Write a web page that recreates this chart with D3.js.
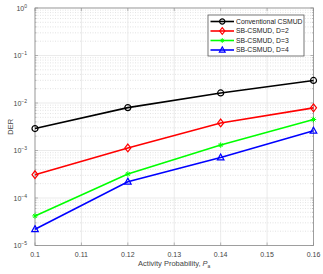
<!DOCTYPE html>
<html>
<head>
<meta charset="utf-8">
<script src="https://cdn.jsdelivr.net/npm/d3@7"></script>
<style>
  html, body { margin: 0; padding: 0; background: #fff; overflow: hidden; }
  svg { display: block; }
  svg text { font-family: "Liberation Sans", Arial, sans-serif; }
</style>
</head>
<body>
<div id="chart"></div>
<script>
const xValues = [0.1, 0.12, 0.14, 0.16];
const conventional = [2.9e-3, 8.0e-3, 1.63e-2, 2.98e-2];
const sbD2 = [3.1e-4, 1.13e-3, 3.8e-3, 7.9e-3];
const sbD3 = [4.2e-5, 3.2e-4, 1.3e-3, 4.5e-3];
const sbD4 = [2.2e-5, 2.2e-4, 7.1e-4, 2.6e-3];
const xTicks = [0.1, 0.11, 0.12, 0.13, 0.14, 0.15, 0.16];
const yExponents = [-5, -4, -3, -2, -1, 0];

const series = [
    { name: "Conventional CSMUD", values: conventional, color: "#000000", marker: "circle" },
    { name: "SB-CSMUD, D=2", values: sbD2, color: "#ff0000", marker: "diamond" },
    { name: "SB-CSMUD, D=3", values: sbD3, color: "#00ff00", marker: "star" },
    { name: "SB-CSMUD, D=4", values: sbD4, color: "#0000ff", marker: "triangle" }
];

const width = 323, height = 274;
const margin = { top: 8, right: 9.5, bottom: 28.5, left: 35 };
const innerWidth = width - margin.left - margin.right;
const innerHeight = height - margin.top - margin.bottom;

const svg = d3.select("#chart").append("svg")
    .attr("width", width)
    .attr("height", height);

const g = svg.append("g").attr("transform", `translate(${margin.left},${margin.top})`);

const x = d3.scaleLinear().domain([0.1, 0.16]).range([0, innerWidth]);
const y = d3.scaleLog().domain([1e-5, 1]).range([innerHeight, 0]);

// minor log grid (dotted)
const minorVals = [];
yExponents.slice(0, -1).forEach(e => {
    for (let k = 2; k <= 9; k++) minorVals.push(k * Math.pow(10, e));
});
g.selectAll(".minor-grid").data(minorVals).enter().append("line")
    .attr("x1", 0).attr("x2", innerWidth)
    .attr("y1", d => y(d)).attr("y2", d => y(d))
    .attr("stroke", "#d0d0d0").attr("stroke-width", 0.6)
    .attr("stroke-dasharray", "1,1.5");

// major grid
g.selectAll(".ygrid").data(yExponents).enter().append("line")
    .attr("x1", 0).attr("x2", innerWidth)
    .attr("y1", d => y(Math.pow(10, d))).attr("y2", d => y(Math.pow(10, d)))
    .attr("stroke", "#e2e2e2").attr("stroke-width", 0.7);
g.selectAll(".xgrid").data(xTicks).enter().append("line")
    .attr("x1", d => x(d)).attr("x2", d => x(d))
    .attr("y1", 0).attr("y2", innerHeight)
    .attr("stroke", "#e2e2e2").attr("stroke-width", 0.7);

// axes box and ticks (inside)
const axisColor = "#8c8c8c";
g.append("rect").attr("width", innerWidth).attr("height", innerHeight)
    .attr("fill", "none").attr("stroke", axisColor).attr("stroke-width", 0.8);

const tickLen = 3;
xTicks.forEach(t => {
    g.append("line").attr("x1", x(t)).attr("x2", x(t)).attr("y1", innerHeight).attr("y2", innerHeight - tickLen)
        .attr("stroke", axisColor).attr("stroke-width", 0.6);
    g.append("line").attr("x1", x(t)).attr("x2", x(t)).attr("y1", 0).attr("y2", tickLen)
        .attr("stroke", axisColor).attr("stroke-width", 0.6);
});
yExponents.forEach(e => {
    const yy = y(Math.pow(10, e));
    g.append("line").attr("x1", 0).attr("x2", tickLen).attr("y1", yy).attr("y2", yy)
        .attr("stroke", axisColor).attr("stroke-width", 0.6);
    g.append("line").attr("x1", innerWidth).attr("x2", innerWidth - tickLen).attr("y1", yy).attr("y2", yy)
        .attr("stroke", axisColor).attr("stroke-width", 0.6);
});
minorVals.forEach(v => {
    g.append("line").attr("x1", 0).attr("x2", 1.6).attr("y1", y(v)).attr("y2", y(v))
        .attr("stroke", axisColor).attr("stroke-width", 0.5);
    g.append("line").attr("x1", innerWidth).attr("x2", innerWidth - 1.6).attr("y1", y(v)).attr("y2", y(v))
        .attr("stroke", axisColor).attr("stroke-width", 0.5);
});

// tick labels
const labelColor = "#444";
g.selectAll(".xlab").data(xTicks).enter().append("text")
    .attr("x", d => x(d)).attr("y", innerHeight + 11)
    .attr("text-anchor", "middle").attr("font-size", 7).attr("fill", labelColor)
    .text(d => d3.format("")(+d.toFixed(2)));

yExponents.forEach(e => {
    const t = g.append("text")
        .attr("x", -8).attr("y", y(Math.pow(10, e)) + 2.5)
        .attr("text-anchor", "end").attr("font-size", 7).attr("fill", labelColor);
    t.append("tspan").text("10");
    t.append("tspan").attr("dy", -3).attr("font-size", 5).text(e === 0 ? "0" : "\u2212" + (-e));
});

// axis titles
svg.append("text")
    .attr("transform", `translate(13,${margin.top + innerHeight / 2}) rotate(-90)`)
    .attr("text-anchor", "middle").attr("font-size", 7.5).attr("fill", labelColor)
    .text("DER");

const xt = svg.append("text")
    .attr("x", margin.left + innerWidth / 2).attr("y", 266)
    .attr("text-anchor", "middle").attr("font-size", 7.5).attr("fill", labelColor);
xt.append("tspan").text("Activity Probability, ");
xt.append("tspan").attr("font-style", "italic").text("P");
xt.append("tspan").attr("dy", 1.5).attr("font-size", 5).text("a");

// markers
function drawMarker(sel, type, color, size) {
    if (type === "circle") {
        sel.append("circle").attr("r", size).attr("fill", "none")
            .attr("stroke", color).attr("stroke-width", 1.2);
    } else if (type === "diamond") {
        sel.append("path").attr("d", `M0,${-size * 1.3}L${size},0L0,${size * 1.3}L${-size},0Z`)
            .attr("fill", "none").attr("stroke", color).attr("stroke-width", 1.2);
    } else if (type === "triangle") {
        sel.append("path").attr("d", `M0,${-size * 1.2}L${size * 1.1},${size * 0.8}L${-size * 1.1},${size * 0.8}Z`)
            .attr("fill", "none").attr("stroke", color).attr("stroke-width", 1.2);
    } else if (type === "star") {
        const s = size * 0.9;
        sel.append("path")
            .attr("d", `M${-s},0L${s},0M0,${-s}L0,${s}M${-s * 0.7},${-s * 0.7}L${s * 0.7},${s * 0.7}M${-s * 0.7},${s * 0.7}L${s * 0.7},${-s * 0.7}`)
            .attr("stroke", color).attr("stroke-width", 1);
    }
}

const line = d3.line().x((d, i) => x(xValues[i])).y(d => y(d));

series.forEach(s => {
    g.append("path").datum(s.values)
        .attr("d", line).attr("fill", "none")
        .attr("stroke", s.color).attr("stroke-width", 1.6);
    s.values.forEach((v, i) => {
        const m = g.append("g").attr("transform", `translate(${x(xValues[i])},${y(v)})`);
        drawMarker(m, s.marker, s.color, 3);
    });
});

// legend
const legend = svg.append("g").attr("transform", "translate(208,15)");
legend.append("rect").attr("width", 96).attr("height", 41)
    .attr("fill", "#fff").attr("stroke", "#555").attr("stroke-width", 0.8);
series.forEach((s, i) => {
    const ly = 6.5 + i * 9.5;
    legend.append("line").attr("x1", 2.5).attr("x2", 26).attr("y1", ly).attr("y2", ly)
        .attr("stroke", s.color).attr("stroke-width", 1.6);
    const m = legend.append("g").attr("transform", `translate(14.25,${ly})`);
    drawMarker(m, s.marker, s.color, 2.6);
    legend.append("text").attr("x", 28).attr("y", ly + 2.4)
        .attr("font-size", 6.8).attr("fill", "#222").text(s.name);
});
</script>
</body>
</html>
